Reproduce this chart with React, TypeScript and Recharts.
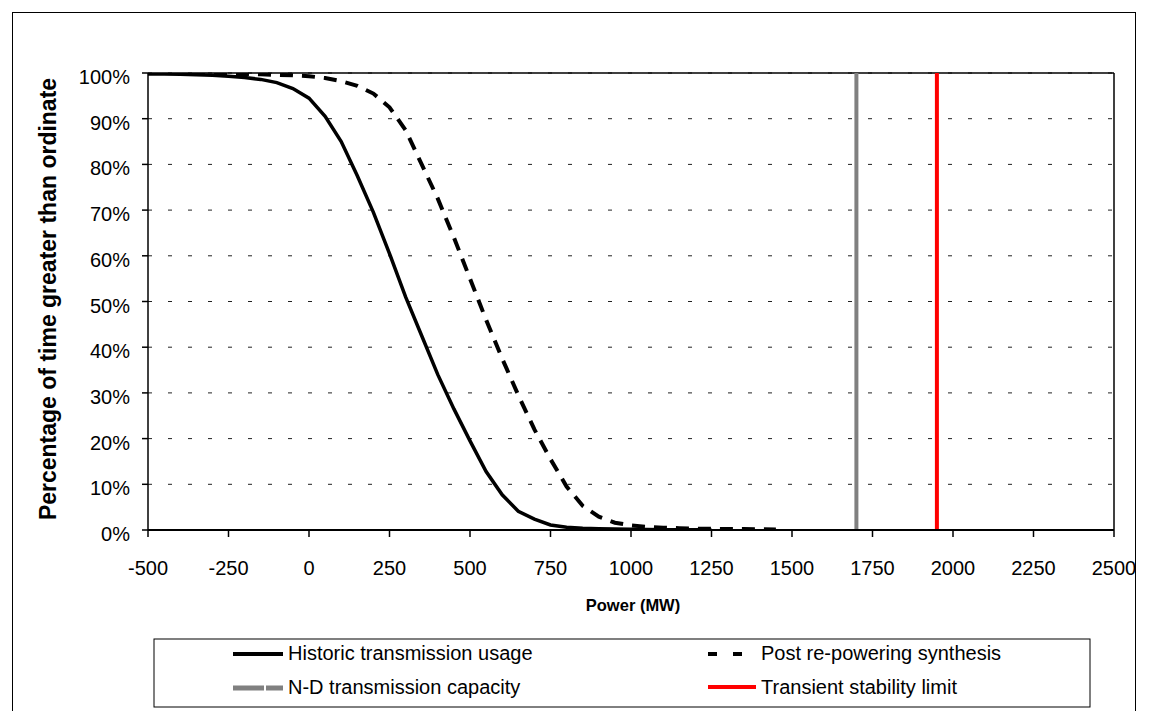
import { LineChart, Line, XAxis, YAxis, CartesianGrid, ReferenceLine } from "recharts";

const FONT = "'Liberation Sans', Arial, sans-serif";

// power axis (MW) at which the duration curves are sampled
const powerMW = [
  -500, -450, -400, -350, -300, -250, -200, -150, -100, -50, 0, 50, 100, 150, 200, 250, 300, 350, 400,
  450, 500, 550, 600, 650, 700, 750, 800, 850, 900, 950, 1000, 1050, 1100, 1150, 1200, 1250, 1300, 1350,
  1400, 1450,
];

// % of time greater than ordinate
const historicPct = [
  99.8, 99.8, 99.7, 99.6, 99.5, 99.3, 99.0, 98.6, 97.9, 96.6, 94.5, 90.5, 85.0, 77.5, 69.5, 60.5, 51.0,
  42.5, 34.0, 26.5, 19.5, 12.8, 7.7, 4.1, 2.4, 1.1, 0.6, 0.4, 0.3, 0.2, 0.15, 0.1, 0.08, 0.05, 0.03, 0.02,
  null, null, null, null,
];

const postPct = [
  100, 100, 100, 99.9, 99.9, 99.8, 99.8, 99.7, 99.6, 99.5, 99.3, 98.9, 98.2, 97.2, 95.5, 92.5, 87.5, 80.0,
  72.5, 64.0, 55.0, 46.0, 37.5, 29.5, 22.0, 15.5, 9.5, 5.3, 2.9, 1.6, 1.0, 0.7, 0.5, 0.4, 0.3, 0.25, 0.2,
  0.2, 0.15, 0.1,
];

const capacityMW = 1700;
const stabilityMW = 1950;

const xTicks = [-500, -250, 0, 250, 500, 750, 1000, 1250, 1500, 1750, 2000, 2250, 2500];
const yTicks = [0, 10, 20, 30, 40, 50, 60, 70, 80, 90, 100];

const curveData = powerMW.map((mw, i) => ({
  mw,
  historic: historicPct[i],
  post: postPct[i],
}));

const capacityLine = [
  { mw: capacityMW, pct: 0 },
  { mw: capacityMW, pct: 100 },
];
const stabilityLine = [
  { mw: stabilityMW, pct: 0 },
  { mw: stabilityMW, pct: 100 },
];

function XTick(props: any) {
  const { x, y, payload } = props;
  return (
    <text x={x} y={y + 14.5} textAnchor="middle" fontSize={20} fontFamily={FONT} fill="#000">
      {payload.value}
    </text>
  );
}

function YTick(props: any) {
  const { x, y, payload } = props;
  return (
    <text x={x} y={y + 11} textAnchor="end" fontSize={20} fontFamily={FONT} fill="#000">
      {payload.value}%
    </text>
  );
}

function ChartLegend() {
  return (
    <svg
      width={938}
      height={70}
      style={{ position: "absolute", left: 153, top: 638 }}
    >
      <rect x={1} y={1} width={936} height={68} fill="#fff" stroke="#000" strokeWidth={1} />
      <line x1={80} y1={16} x2={130} y2={16} stroke="#000" strokeWidth={4} />
      <text x={135} y={22} fontSize={20} fontFamily={FONT}>Historic transmission usage</text>
      <line x1={80} y1={50} x2={130} y2={50} stroke="#808080" strokeWidth={5} strokeDasharray="31 2" />
      <text x={135} y={56} fontSize={20} fontFamily={FONT}>N-D transmission capacity</text>
      <line x1={555} y1={16} x2={590} y2={16} stroke="#000" strokeWidth={4} strokeDasharray="9 16" />
      <text x={608} y={22} fontSize={20} fontFamily={FONT}>Post re-powering synthesis</text>
      <line x1={555} y1={49} x2={603} y2={49} stroke="#ff0000" strokeWidth={4} />
      <text x={608} y={56} fontSize={20} fontFamily={FONT}>Transient stability limit</text>
    </svg>
  );
}

export default function App() {
  return (
    <div
      style={{
        position: "absolute",
        left: 0,
        top: 0,
        width: 1149,
        height: 711,
        background: "#fff",
        overflow: "hidden",
      }}
    >
      <div
        style={{
          position: "absolute",
          left: 12,
          top: 12,
          width: 1124,
          height: 700,
          border: "1.5px solid #000",
          boxSizing: "border-box",
        }}
      />
      <div style={{ position: "absolute", left: 0, top: 0 }}>
        <LineChart
          width={1149}
          height={711}
          data={curveData}
          margin={{ top: 73, right: 35, left: 88, bottom: 131 }}
        >
          <CartesianGrid vertical={false} stroke="#222" strokeDasharray="4 16" />
          <XAxis
            dataKey="mw"
            type="number"
            domain={[-500, 2500]}
            ticks={xTicks}
            allowDataOverflow
            height={50}
            tickSize={7}
            tickMargin={23}
            tick={<XTick />}
            axisLine={{ stroke: "#000", strokeWidth: 2 }}
            tickLine={{ stroke: "#000", strokeWidth: 1.5 }}
            label={{
              content: () => (
                <text x={633} y={611} textAnchor="middle" fontSize={16.5} fontWeight="bold" fontFamily={FONT}>
                  Power (MW)
                </text>
              ),
            }}
          />
          <YAxis
            type="number"
            domain={[0, 100]}
            ticks={yTicks}
            allowDataOverflow
            width={60}
            tickSize={6}
            tickMargin={12}
            tick={<YTick />}
            axisLine={{ stroke: "#000", strokeWidth: 1.5 }}
            tickLine={{ stroke: "#000", strokeWidth: 1.5 }}
            label={{
              content: () => (
                <text
                  x={48}
                  y={299}
                  transform="rotate(-90 48 299)"
                  textAnchor="middle"
                  dominantBaseline="central"
                  fontSize={23}
                  fontWeight="bold"
                  fontFamily={FONT}
                >
                  Percentage of time greater than ordinate
                </text>
              ),
            }}
          />
          <ReferenceLine y={100} stroke="#000" strokeWidth={1.5} />
          <ReferenceLine x={2500} stroke="#000" strokeWidth={1.5} />
          <Line
            dataKey="historic"
            stroke="#000"
            strokeWidth={3.5}
            dot={false}
            isAnimationActive={false}
            connectNulls={false}
          />
          <Line
            dataKey="post"
            stroke="#000"
            strokeWidth={4}
            strokeDasharray="13 9"
            dot={false}
            isAnimationActive={false}
          />
          <Line
            data={capacityLine}
            dataKey="pct"
            stroke="#808080"
            strokeWidth={4}
            dot={false}
            isAnimationActive={false}
          />
          <Line
            data={stabilityLine}
            dataKey="pct"
            stroke="#ff0000"
            strokeWidth={4}
            dot={false}
            isAnimationActive={false}
          />
        </LineChart>
      </div>
      <ChartLegend />
    </div>
  );
}
